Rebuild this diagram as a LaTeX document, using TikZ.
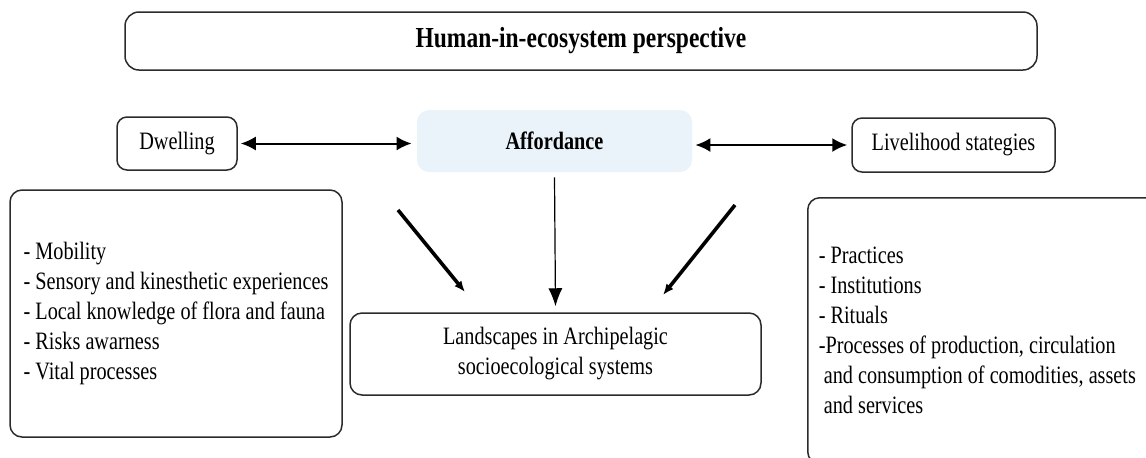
\documentclass[tikz,border=0pt]{standalone}
\usepackage{fontspec}
\setmainfont{Liberation Serif}[FakeStretch=0.81]
\usepackage{tikz}
\usetikzlibrary{arrows.meta,positioning,calc}
\definecolor{affblue}{HTML}{EAF3F9}
\definecolor{edgegray}{HTML}{2B2B2B}
\newcommand{\bodyfont}{\fontsize{12.5}{15}\selectfont}
\newcommand{\titlefont}{\fontsize{14.5}{17}\selectfont\bfseries}
\tikzset{
  roundbox/.style={rectangle, rounded corners=#1, draw=edgegray, line width=0.75pt,
                   align=center, inner sep=0pt, font=\bodyfont},
  roundbox/.default=5pt,
  biarr/.style={{Latex[length=7.5pt,width=7pt]}-{Latex[length=7.5pt,width=7pt]}, line width=1pt},
  downarr/.style={-{Latex[length=9pt,width=7pt]}, line width=0.6pt},
  slantarr/.style={-{Latex[length=5.5pt,width=4.5pt]}, line width=1.8pt},
}

\begin{document}
\begin{tikzpicture}[x=0.5pt, y=-0.5pt]
  \useasboundingbox (0,0) rectangle (1146,457);
  \clip (0,0) rectangle (1146,457);

  \node[roundbox=7pt, minimum width=456pt, minimum height=29pt, font=\titlefont] (persp) at (581,41)
    {Human-in-ecosystem perspective};

  \node[roundbox, minimum width=60pt, minimum height=26.5pt] (dwell) at (177,143.5) {Dwelling};
  \node[rectangle, rounded corners=6pt, fill=affblue, minimum width=137.5pt, minimum height=31pt,
        font=\bodyfont\bfseries] (afford) at (554.5,141) {Affordance};
  \node[roundbox, minimum width=101.5pt, minimum height=27pt] (liveli) at (953.5,145) {Livelihood stategies};

  \node[roundbox=6pt, minimum width=166pt, minimum height=123.5pt, align=left] (dwelllist) at (176,313.5)
    {- Mobility\\- Sensory and kinesthetic experiences\\- Local knowledge of flora and fauna\\
     - Risks awarness\\- Vital processes};
  \node[roundbox=6pt, anchor=north west, inner xsep=5.5pt, text width=170.5pt, minimum height=133pt,
        align=flush left] (livelist) at (807,197)
    {- Practices\\- Institutions\\- Rituals\\-Processes of production, circulation\\
     \ and consumption of comodities, assets\\\ and services};

  \node[roundbox=6pt, minimum width=205.5pt, minimum height=41pt] (land) at (555.5,354)
    {Landscapes in Archipelagic\\socioecological systems};

  \coordinate (lefttail) at (398,210);
  \coordinate (lefthead) at (465,292);
  \coordinate (righttail) at (735,205);
  \coordinate (righthead) at (663,295);

  \draw[biarr] ([xshift=1.5pt]dwell.east) -- ([xshift=-2.5pt]dwell.east -| afford.west);
  \draw[biarr] ([xshift=1.5pt]afford.east |- liveli.west) -- ([xshift=-2pt]liveli.west);
  \draw[downarr] ([yshift=-2.5pt]afford.south) -- ([yshift=3pt]land.north);
  \draw[slantarr] (lefttail) -- (lefthead);
  \draw[slantarr] (righttail) -- (righthead);
\end{tikzpicture}
\end{document}
